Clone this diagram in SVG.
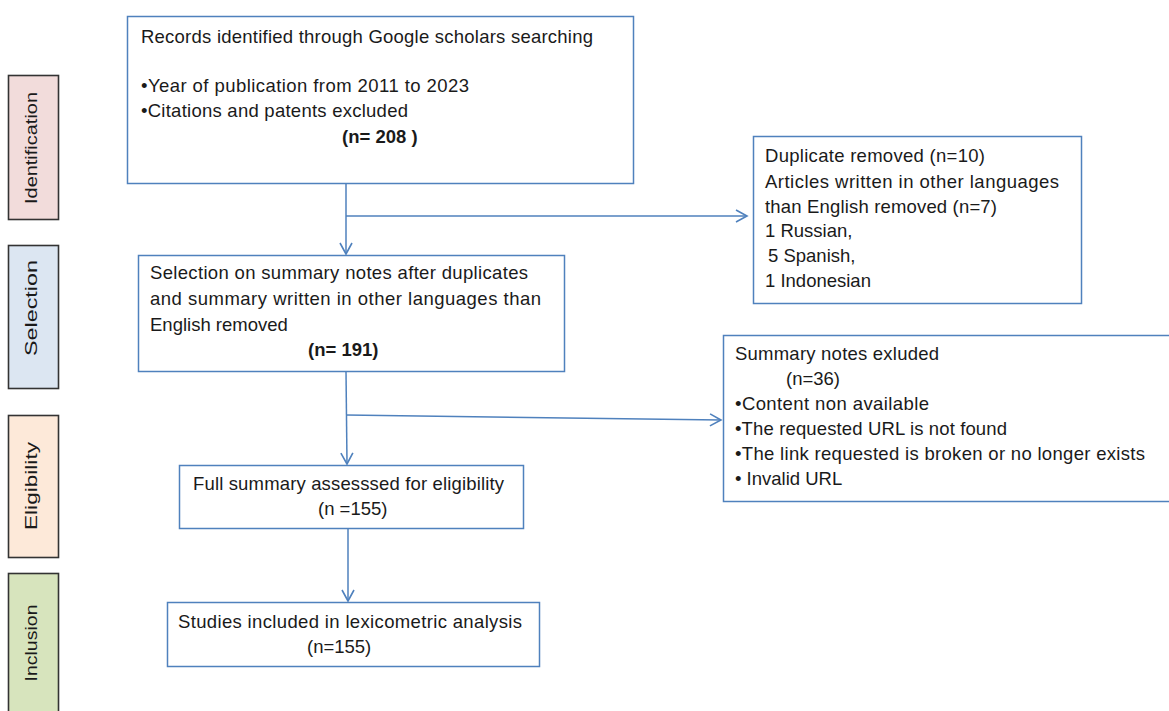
<svg xmlns="http://www.w3.org/2000/svg" width="1169" height="711" viewBox="0 0 1169 711">
  <defs>
    <marker id="arrow" markerUnits="userSpaceOnUse" markerWidth="16" markerHeight="16" refX="0" refY="0" viewBox="-14 -8 16 16" orient="auto">
      <path d="M-11,-6 L0,0 L-11,6" fill="none" stroke="#4F81BD" stroke-width="1.6"/>
    </marker>
    <style>
      .box { fill: #ffffff; stroke: #4F81BD; stroke-width: 1.5; }
      .stage { stroke: #333333; stroke-width: 1.6; }
      .t { font-family: "Liberation Sans", Arial, sans-serif; font-size: 18.5px; fill: #1a1a1a; }
      .b { font-weight: bold; }
      .side { font-family: "Liberation Sans", Arial, sans-serif; font-size: 17px; fill: #1a1a1a; text-anchor: middle; }
      .conn { fill: none; stroke: #4F81BD; stroke-width: 1.5; }
    </style>
  </defs>

  <rect width="1169" height="711" fill="#ffffff"/>

  <!-- stage labels on the left -->
  <g id="stage-identification">
    <rect class="stage" x="8.5" y="75.5" width="50" height="144" fill="#F2DCDB"/>
    <text class="side" transform="translate(37,148) rotate(-90)" textLength="112" lengthAdjust="spacingAndGlyphs">Identification</text>
  </g>
  <g id="stage-selection">
    <rect class="stage" x="8.5" y="245.5" width="50" height="143" fill="#DCE6F2"/>
    <text class="side" transform="translate(37,308) rotate(-90)" textLength="96" lengthAdjust="spacingAndGlyphs">Selection</text>
  </g>
  <g id="stage-eligibility">
    <rect class="stage" x="8.5" y="415.5" width="50" height="142" fill="#FDE9D9"/>
    <text class="side" transform="translate(37,486) rotate(-90)" textLength="88" lengthAdjust="spacingAndGlyphs">Eligibility</text>
  </g>
  <g id="stage-inclusion">
    <rect class="stage" x="8.5" y="573.5" width="50" height="145" fill="#D7E4BD"/>
    <text class="side" transform="translate(37,643) rotate(-90)" textLength="77" lengthAdjust="spacingAndGlyphs">Inclusion</text>
  </g>

  <!-- connectors -->
  <g id="connectors">
    <line class="conn" x1="346" y1="184" x2="346" y2="254" marker-end="url(#arrow)"/>
    <line class="conn" x1="346" y1="216" x2="747" y2="216" marker-end="url(#arrow)"/>
    <line class="conn" x1="346" y1="371" x2="347" y2="464" marker-end="url(#arrow)"/>
    <line class="conn" x1="346" y1="415" x2="721" y2="420" marker-end="url(#arrow)"/>
    <line class="conn" x1="348" y1="528" x2="348" y2="601" marker-end="url(#arrow)"/>
  </g>

  <!-- records identified -->
  <g id="records">
    <rect class="box" x="127.5" y="16.5" width="506" height="167"/>
    <text class="t" x="141" y="43" textLength="452">Records identified through Google scholars searching</text>
    <text class="t" x="141" y="92" textLength="328">•Year of publication from 2011 to 2023</text>
    <text class="t" x="141" y="117" textLength="267">•Citations and patents excluded</text>
    <text class="t b" x="342" y="143">(n= 208 )</text>
  </g>

  <!-- duplicates removed -->
  <g id="duplicates">
    <rect class="box" x="753.5" y="136.5" width="328" height="167"/>
    <text class="t" x="765" y="162" textLength="220">Duplicate removed (n=10)</text>
    <text class="t" x="765" y="188" textLength="294">Articles written in other languages</text>
    <text class="t" x="765" y="213" textLength="232">than English removed (n=7)</text>
    <text class="t" x="765" y="237">1 Russian,</text>
    <text class="t" x="768" y="262">5 Spanish,</text>
    <text class="t" x="765" y="287">1 Indonesian</text>
  </g>

  <!-- selection on summary notes -->
  <g id="selection">
    <rect class="box" x="138.5" y="255.5" width="426" height="116"/>
    <text class="t" x="150" y="279" textLength="378">Selection on summary notes after duplicates</text>
    <text class="t" x="150" y="305" textLength="391">and summary written in other languages than</text>
    <text class="t" x="150" y="331">English removed</text>
    <text class="t b" x="308" y="356">(n= 191)</text>
  </g>

  <!-- summary notes excluded -->
  <g id="excluded">
    <rect class="box" x="723.5" y="335.5" width="452" height="166"/>
    <text class="t" x="735" y="360" textLength="204">Summary notes exluded</text>
    <text class="t" x="786" y="385">(n=36)</text>
    <text class="t" x="735" y="410" textLength="194">•Content non available</text>
    <text class="t" x="735" y="435" textLength="272">•The requested URL is not found</text>
    <text class="t" x="735" y="460" textLength="410">•The link requested is broken or no longer exists</text>
    <text class="t" x="735" y="485">• Invalid URL</text>
  </g>

  <!-- full summary assessed -->
  <g id="assessed">
    <rect class="box" x="179.5" y="465.5" width="344" height="63"/>
    <text class="t" x="193" y="490" textLength="311">Full summary assesssed for eligibility</text>
    <text class="t" x="318" y="515">(n =155)</text>
  </g>

  <!-- studies included -->
  <g id="included">
    <rect class="box" x="167.5" y="602.5" width="372" height="64"/>
    <text class="t" x="178" y="628" textLength="344">Studies included in lexicometric analysis</text>
    <text class="t" x="307" y="653">(n=155)</text>
  </g>
</svg>
